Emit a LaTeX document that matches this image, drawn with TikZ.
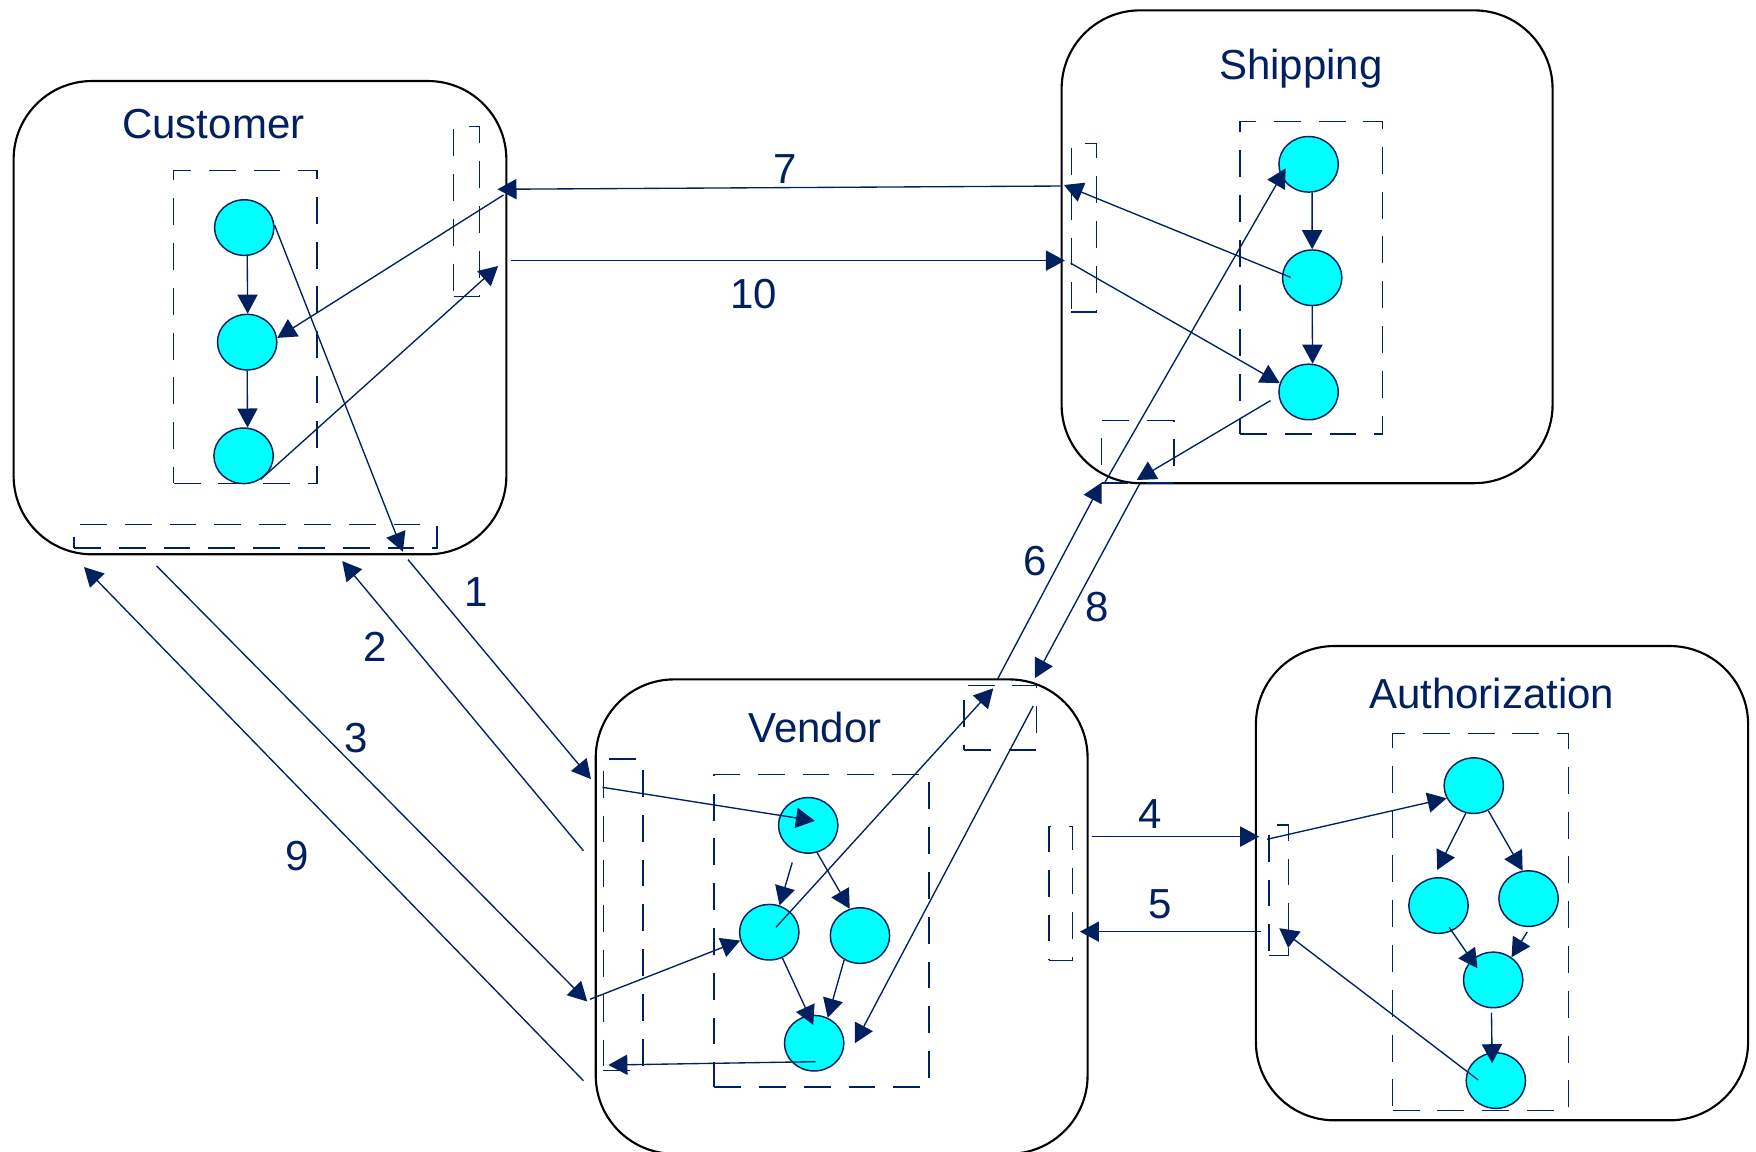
\documentclass[tikz,border=0pt]{standalone}
\usepackage{fontspec}
\setmainfont{Liberation Sans}
\usetikzlibrary{arrows.meta,shapes.geometric,calc}
\definecolor{navy}{RGB}{0,32,96}
\definecolor{cyanfill}{RGB}{0,255,255}
\begin{document}
\begin{tikzpicture}[x=1pt,y=-1pt,
  box/.style={draw=black,line width=1.9pt,rounded corners=70pt,rectangle,inner sep=0pt,anchor=north west},
  dbox/.style={draw=navy,line width=1.3pt,dash pattern=on 24pt off 16pt,rectangle,inner sep=0pt,anchor=north west},
  circ/.style={ellipse,draw=navy,fill=cyanfill,line width=1.3pt,minimum width=53pt,minimum height=49.6pt,inner sep=0pt},
  arr/.style={draw=navy,line width=1.2pt,-{Triangle[length=17pt,width=18pt]}},
  lab/.style={text=navy,font=\fontsize{37.5}{45}\selectfont,inner sep=0pt,anchor=base}]
\fill[white] (0,0) rectangle (1568,1028);
\useasboundingbox (0,0) rectangle (1568,1028);

% ---------- boxes ----------
\node[box,minimum width=440pt,minimum height=422.6pt] (cust) at (11.2,71.4) {};
\node[box,minimum width=438.4pt,minimum height=422.2pt] (ship) at (947,8.3) {};
\node[box,minimum width=439.2pt,minimum height=423.6pt] (vend) at (531,605.7) {};
\node[box,minimum width=439.5pt,minimum height=423.5pt] (auth) at (1120.5,575.9) {};

% ---------- titles ----------
\node[lab] (tcust) at (190.5,123.5) {Customer};
\node[lab] (tship) at (1161.6,71.4) {Shipping};
\node[lab] (tvend) at (727.7,663) {Vendor};
\node[lab] (tauth) at (1332,632.4) {Authorization};

% ---------- dashed groups and ports ----------
\node[dbox,minimum width=128.1pt,minimum height=279.2pt] (cin) at (154.4,151.8) {};
\node[dbox,minimum width=22.9pt,minimum height=151.8pt] (cport) at (404.4,112.5) {};
\node[dbox,minimum width=324.3pt,minimum height=20.8pt] (cbport) at (65.4,467.9) {};

\node[dbox,minimum width=127.5pt,minimum height=279.3pt] (sin) at (1106.5,107.7) {};
\node[dbox,minimum width=22.6pt,minimum height=150.6pt] (sport) at (956,127.4) {};
\node[dbox,minimum width=64.6pt,minimum height=55.5pt] (sbport) at (983,375) {};

\node[dbox,minimum width=192pt,minimum height=279pt] (vin) at (637,691) {};
\node[dbox,minimum width=35.5pt,minimum height=278.4pt] (vlport) at (538,677) {};
\node[dbox,minimum width=65pt,minimum height=57.4pt] (vtport) at (860,611.6) {};
\node[dbox,minimum width=21pt,minimum height=119.5pt] (vrport) at (936,737.5) {};

\node[dbox,minimum width=157.1pt,minimum height=336.8pt] (ain) at (1242.9,654.2) {};
\node[dbox,minimum width=17.3pt,minimum height=116.7pt] (aport) at (1132.4,736) {};

% ---------- activity circles ----------
\node[circ] (c1) at (218.1,203.2) {};
\node[circ] (c2) at (220.7,305.5) {};
\node[circ] (c3) at (217.5,407) {};

\node[circ] (s1) at (1168.5,146.7) {};
\node[circ] (s2) at (1171.7,248) {};
\node[circ] (s3) at (1168.5,350) {};

\node[circ] (v1) at (721.7,737) {};
\node[circ] (v2) at (686.9,832.4) {};
\node[circ] (v3) at (767.9,835.4) {};
\node[circ] (v4) at (727,931.5) {};

\node[circ] (a1) at (1316,701.5) {};
\node[circ] (a2) at (1284.5,808.6) {};
\node[circ] (a3) at (1364.9,802.4) {};
\node[circ] (a4) at (1333.3,875) {};
\node[circ] (a5) at (1335.7,964.9) {};

% ---------- connector end points ----------
\coordinate (c1p) at (359.7,492.6);
\coordinate (c7s) at (449.6,174.1);
\coordinate (c10t) at (444.8,237.5);
\coordinate (m10s) at (456.6,232.7);
\coordinate (m10t) at (950.9,232.7);
\coordinate (m7s) at (947,166.1);
\coordinate (m7t) at (444.2,169);

\coordinate (s2s) at (1152.4,247.6);
\coordinate (s2t) at (950,165.2);
\coordinate (s10s) at (956,235);
\coordinate (s3s) at (1134.5,357.7);
\coordinate (s3t) at (1015,428.6);
\coordinate (m8s) at (1017.9,431.5);
\coordinate (m8t) at (924,605.6);
\coordinate (m6s) at (890.4,607);
\coordinate (m6t) at (983.6,431);
\coordinate (s6s) at (986.6,430.7);
\coordinate (s6t) at (1148,150.3);

\coordinate (v1s) at (538,703);
\coordinate (v1t) at (727.7,733);
\coordinate (v12s) at (707.4,770.2);
\coordinate (v24t) at (726.2,915.2);
\coordinate (v4s) at (728.3,948);
\coordinate (v4t) at (543.2,951);
\coordinate (v3s) at (526.8,892.3);
\coordinate (v6s) at (692.9,828);
\coordinate (v6t) at (886.9,614.6);
\coordinate (v8s) at (922.6,630.4);
\coordinate (v8t) at (763.4,931.5);

\coordinate (a4s) at (1131.5,749.4);
\coordinate (a12t) at (1283.3,776.8);
\coordinate (a24s) at (1294,828);
\coordinate (a24t) at (1319.3,864.6);
\coordinate (a34s) at (1363.7,832.1);
\coordinate (a45s) at (1331.8,904.2);
\coordinate (a45t) at (1332.4,949.4);
\coordinate (a5s) at (1319.9,964.3);
\coordinate (a5t) at (1142.3,828.8);
\coordinate (m5s) at (1125.6,831.9);
\coordinate (m5t) at (964.3,831.9);
\coordinate (m4s) at (974.7,747);
\coordinate (m4t) at (1124.4,747);

\coordinate (m1s) at (364.3,499.7);
\coordinate (m1t) at (527.7,695.7);
\coordinate (m2s) at (521,759.7);
\coordinate (m2t) at (305.6,501);
\coordinate (m3s) at (139.9,505.4);
\coordinate (m3t) at (524.4,894.3);
\coordinate (m9s) at (521,965);
\coordinate (m9t) at (75,506.3);

% ---------- connectors: Customer ----------
\draw[arr] (c1.-84) -- (c2.89);
\draw[arr] (c2.-90) -- (c3.82);
\draw[arr] (c1.5) -- (c1p);
\draw[arr] (c7s) -- (c2.8);
\draw[arr] (c3.-54) -- (c10t);

% ---------- connectors: Shipping ----------
\draw[arr] (s1.-83) -- (s2.north);
\draw[arr] (s2.south) -- (s3.82);
\draw[arr] (s2s) -- (s2t);
\draw[arr] (s10s) -- (s3.163);
\draw[arr] (s3s) -- (s3t);
\draw[arr] (s6s) -- (s6t);

% ---------- connectors: Vendor ----------
\draw[arr] (v1s) -- (v1t);
\draw[arr] (v12s) -- (v2.69);
\draw[arr] (v1.-72) -- (v3.111);
\draw[arr] (v2.-63) -- (v24t);
\draw[arr] (v3.-123) -- (v4.62);
\draw[arr] (v4s) -- (v4t);
\draw[arr] (v3s) -- (v2.-164);
\draw[arr] (v6s) -- (v6t);
\draw[arr] (v8s) -- (v8t);

% ---------- connectors: Authorization ----------
\draw[arr] (a4s) -- (a1.205);
\draw[arr] (a1.-106) -- (a12t);
\draw[arr] (a1.-60) -- (a3.102);
\draw[arr] (a24s) -- (a24t);
\draw[arr] (a34s) -- (a4.51);
\draw[arr] (a45s) -- (a45t);
\draw[arr] (a5s) -- (a5t);

% ---------- messages between partners ----------
\draw[arr] (m7s) -- (m7t);
\draw[arr] (m10s) -- (m10t);
\draw[arr] (m1s) -- (m1t);
\draw[arr] (m2s) -- (m2t);
\draw[arr] (m3s) -- (m3t);
\draw[arr] (m9s) -- (m9t);
\draw[arr] (m6s) -- (m6t);
\draw[arr] (m8s) -- (m8t);
\draw[arr] (m4s) -- (m4t);
\draw[arr] (m5s) -- (m5t);

% ---------- message numbers ----------
\node[lab] (n7) at (701,163.6) {7};
\node[lab] (n10) at (673,275.6) {10};
\node[lab] (n1) at (425.3,541.9) {1};
\node[lab] (n2) at (335.4,591.1) {2};
\node[lab] (n3) at (317.9,672.2) {3};
\node[lab] (n9) at (265.7,777.3) {9};
\node[lab] (n6) at (924.7,513.6) {6};
\node[lab] (n8) at (979.7,555.3) {8};
\node[lab] (n4) at (1026.8,739.8) {4};
\node[lab] (n5) at (1035.7,820.1) {5};
\end{tikzpicture}
\end{document}
